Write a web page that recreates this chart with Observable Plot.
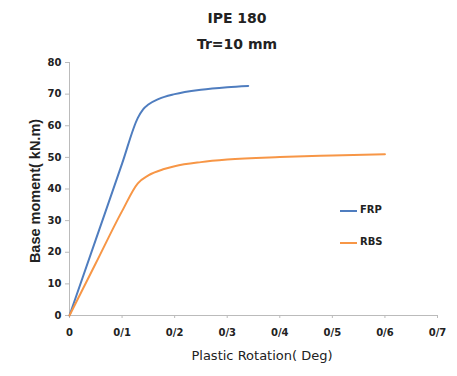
<!DOCTYPE html>
<html>
<head>
<meta charset="utf-8">
<script src="https://cdn.jsdelivr.net/npm/d3@7"></script>
<script src="https://cdn.jsdelivr.net/npm/@observablehq/plot@0.6"></script>
<style>
  body { margin: 0; background: #fff; }
  #wrap { position: relative; width: 457px; height: 376px; overflow: hidden; font-family: "DejaVu Sans", sans-serif; }
  .t { position: absolute; color: #222; white-space: nowrap; }
  #title { left: 0; width: 474px; top: 10px; text-align: center; font-size: 14px; font-weight: bold; line-height: 16px; }
  #sub { left: 0; width: 474px; top: 36px; text-align: center; font-size: 14px; font-weight: bold; line-height: 16px; }
  #ylab { left: 35px; top: 191px; transform: translate(-50%, -50%) rotate(-90deg); font-family: "Liberation Sans", Arial, sans-serif; font-weight: bold; font-size: 14.5px; }
  #xlab { left: 262px; top: 355px; transform: translate(-50%, -50%); font-size: 13px; }
  .leg { position: absolute; font-size: 10px; font-weight: bold; color: #222; }
  .sw { position: absolute; width: 17px; height: 2px; }
  #chart { position: absolute; left: 0; top: 52px; }
</style>
</head>
<body>
<div id="wrap">
  <div id="chart"></div>
  <div class="t" id="title">IPE 180</div>
  <div class="t" id="sub">Tr=10 mm</div>
  <div class="t" id="ylab">Base moment( kN.m)</div>
  <div class="t" id="xlab">Plastic Rotation( Deg)</div>
  <div id="legend"></div>
</div>
<script>
const seriesNames = ["FRP", "RBS"];
const seriesColors = ["#4F7DBF", "#F79646"];

const frpX = [0, 0.05, 0.10, 0.13, 0.14, 0.15, 0.17, 0.20, 0.25, 0.30, 0.34];
const frpY = [0, 24, 48, 62.5, 65.2, 66.7, 68.5, 70, 71.4, 72.2, 72.6];

const rbsX = [0, 0.05, 0.10, 0.13, 0.15, 0.18, 0.20, 0.25, 0.30, 0.40, 0.50, 0.60];
const rbsY = [0, 16.5, 33, 41.8, 44.3, 46.3, 47.2, 48.5, 49.3, 50.1, 50.6, 51];

const xTicks = [0, 0.1, 0.2, 0.3, 0.4, 0.5, 0.6, 0.7];
const xTickLabels = ["0", "0/1", "0/2", "0/3", "0/4", "0/5", "0/6", "0/7"];
const yTicks = [0, 10, 20, 30, 40, 50, 60, 70, 80];

const data = [
  ...frpX.map((x, i) => ({series: seriesNames[0], x, y: frpY[i]})),
  ...rbsX.map((x, i) => ({series: seriesNames[1], x, y: rbsY[i]}))
];

const chart = Plot.plot({
  width: 457,
  height: 324,
  marginLeft: 69,
  marginRight: 20,
  marginTop: 10,
  marginBottom: 61,
  style: {fontFamily: '"DejaVu Sans", sans-serif', fontSize: "10px", fontWeight: "bold", color: "#222", background: "transparent"},
  x: {domain: [0, 0.7]},
  y: {domain: [0, 80]},
  color: {domain: seriesNames, range: seriesColors},
  marks: [
    Plot.ruleX([0], {stroke: "#bbb"}),
    Plot.ruleY([0], {stroke: "#bbb"}),
    Plot.axisX({ticks: xTicks, tickFormat: (d, i) => xTickLabels[i], tickSize: 3, tickPadding: 10, stroke: "#bbb", label: null}),
    Plot.axisY({ticks: yTicks, tickSize: 4, tickPadding: 4, stroke: "#bbb", label: null}),
    Plot.line(data, {x: "x", y: "y", z: "series", stroke: "series", strokeWidth: 2, curve: "monotone-x"})
  ]
});
document.getElementById("chart").append(chart);

chart.querySelectorAll("[aria-label='x-axis tick label'] text, [aria-label='y-axis tick label'] text").forEach(t => t.setAttribute("fill", "#222"));

const legend = document.getElementById("legend");
const legendTop = [211, 243];
seriesNames.forEach((name, i) => {
  const sw = document.createElement("div");
  sw.className = "sw";
  sw.style.left = "340px";
  sw.style.top = (legendTop[i] - 1) + "px";
  sw.style.background = seriesColors[i];
  legend.append(sw);
  const lb = document.createElement("div");
  lb.className = "leg";
  lb.style.left = "360px";
  lb.style.top = (legendTop[i] - 7) + "px";
  lb.textContent = name;
  legend.append(lb);
});
</script>
</body>
</html>
